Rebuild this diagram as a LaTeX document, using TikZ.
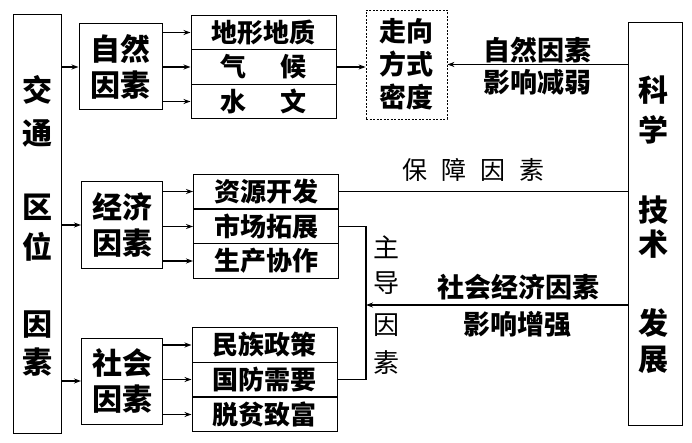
\documentclass[tikz,border=0pt]{standalone}
\usepackage{fontspec}
\setmainfont{Noto Sans CJK SC}
\usetikzlibrary{arrows.meta}
\begin{document}
\begin{tikzpicture}[x=1pt,y=-1pt,
  box/.style={draw,line width=1pt,inner sep=0pt},
  cell/.style={draw,line width=1pt,minimum width=145pt,minimum height=34.5pt,inner sep=0pt,font=\fontsize{26}{26}\selectfont\bfseries},
  arr/.style={line width=1.6pt,-{Stealth[length=7pt,width=5pt]}},
  ln/.style={line width=1.6pt},
  big/.style={font=\fontsize{30}{30}\selectfont\bfseries},
  grp/.style={box,minimum width=81pt,minimum height=86pt,align=center,font=\fontsize{30}{36}\selectfont\bfseries},
  lab/.style={font=\fontsize{27}{27}\selectfont\bfseries},
  thin/.style={font=\fontsize{26}{26}\selectfont}]
\useasboundingbox (0,0) rectangle (692,443);
\fill[white] (0,0) rectangle (692,443);

% left tall box
\node[box,minimum width=48pt,minimum height=419pt] (jt) at (37,224) {};
\node[big] (j1) at (37,90) {交};
\node[big] (j2) at (37,133) {通};
\node[big] (j3) at (37,207) {区};
\node[big] (j4) at (37,247) {位};
\node[big] (j5) at (37,325) {因};
\node[big] (j6) at (37,362) {素};

% right tall box
\node[box,minimum width=54pt,minimum height=402pt] (kj) at (655,224) {};
\node[big] (k1) at (653,90) {科};
\node[big] (k2) at (653,130) {学};
\node[big] (k3) at (653,210) {技};
\node[big] (k4) at (653,244) {术};
\node[big] (k5) at (653,323) {发};
\node[big] (k6) at (653,360) {展};

% group boxes
\node[grp,minimum width=83pt] (nat) at (120.5,67) {自然\\因素};
\node[grp] (eco) at (122,225) {经济\\因素};
\node[grp] (soc) at (122,381) {社会\\因素};

% cells row 1
\node[cell] (a1) at (263.5,32.5) {地形地质};
\node[cell] (a2) at (263.5,67) {气\hspace{34pt}候};
\node[cell] (a3) at (263.5,101.5) {水\hspace{34pt}文};
% cells row 2
\node[cell] (b1) at (266,191.5) {资源开发};
\node[cell] (b2) at (266,226.5) {市场拓展};
\node[cell] (b3) at (266,261) {生产协作};
% cells row 3
\node[cell] (c1) at (264.5,345) {民族政策};
\node[cell] (c2) at (264.5,379.5) {国防需要};
\node[cell] (c3) at (264.5,414.5) {脱贫致富};

% dashed box
\node[draw,line width=0.8pt,dash pattern=on 2pt off 1.5pt,minimum width=81pt,minimum height=109pt,inner sep=0pt,align=center,font=\fontsize{27}{33}\selectfont\bfseries] (dir) at (406.5,64.5) {走向\\方式\\密度};

% arrows from left box
\draw[arr] (jt.east |- nat.west) -- (nat.west);
\draw[arr] (jt.east |- eco.west) -- (eco.west);
\draw[arr] (jt.east |- soc.west) -- (soc.west);

% arrows to cells
\draw[arr] (nat.east |- a1.west) -- (a1.west);
\draw[arr] (nat.east |- a2.west) -- (a2.west);
\draw[arr] (nat.east |- a3.west) -- (a3.west);
\draw[arr] (eco.east |- b1.west) -- (b1.west);
\draw[arr] (eco.east |- b2.west) -- (b2.west);
\draw[arr] (eco.east |- b3.west) -- (b3.west);
\draw[arr] (soc.east |- c1.west) -- (c1.west);
\draw[arr] (soc.east |- c2.west) -- (c2.west);
\draw[arr] (soc.east |- c3.west) -- (c3.west);

% to dashed box
\draw[arr] (a2.east) -- (a2.east -| dir.west);
\draw[arr] (dir.east -| kj.west) -- (dir.east);
\node[lab] (zr1) at (537,50) {自然因素};
\node[lab] (zr2) at (537,82) {影响减弱};

% guarantee line
\draw[ln] (b1.east) -- (b1.east -| kj.west);
\node[font=\fontsize{25}{25}\selectfont] (bz) at (473,170) {保\hspace{14pt}障\hspace{14pt}因\hspace{14pt}素};

% dominant bracket
\coordinate (br) at (366,305);
\draw[ln] (b2.east) -- (b2.east -| br) -- (c2.east -| br) -- (c2.east);
\draw[arr] (br -| kj.west) -- (br);
\node[thin] (d1) at (386,247) {主};
\node[thin] (d2) at (386,283) {导};
\node[thin] (d3) at (386,325) {因};
\node[thin] (d4) at (386,363) {素};
\node[lab] (sh1) at (518,287) {社会经济因素};
\node[lab] (sh2) at (517,324) {影响增强};
\end{tikzpicture}
\end{document}
